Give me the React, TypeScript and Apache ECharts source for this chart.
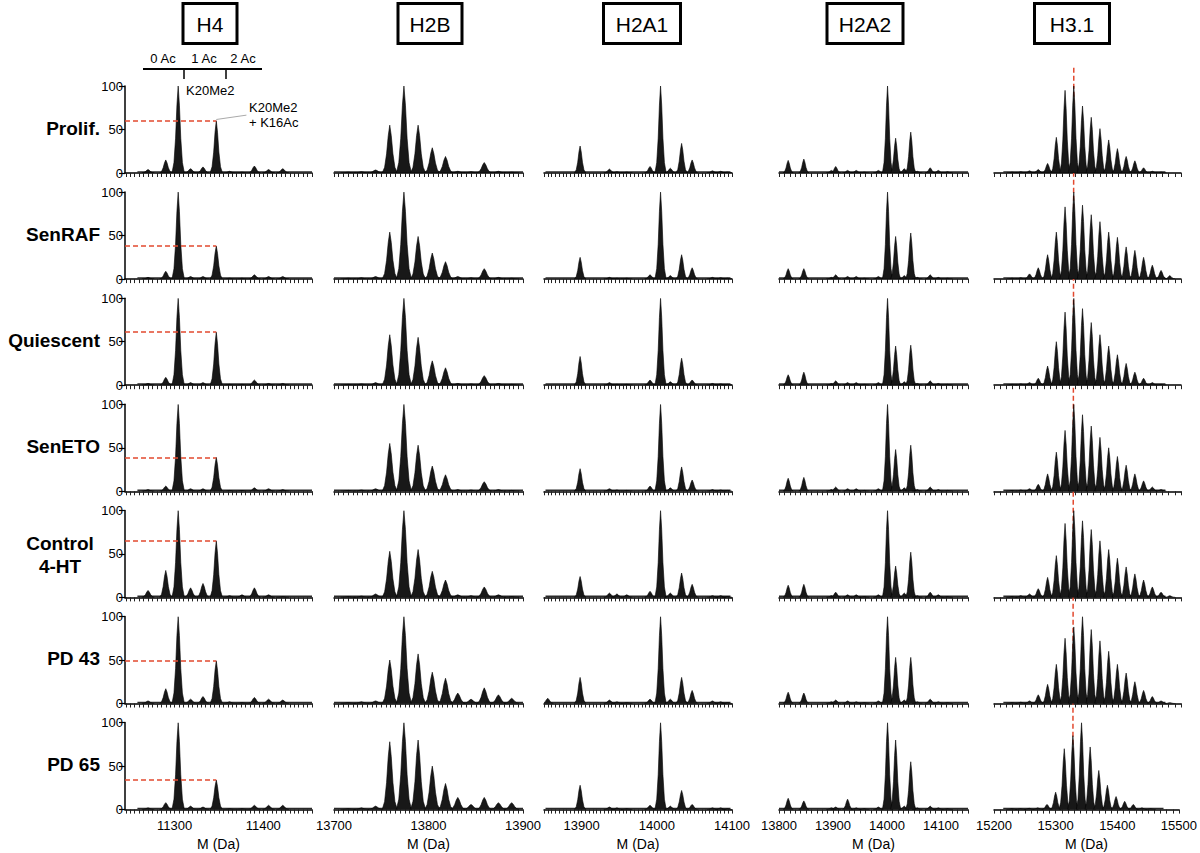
import React, { useEffect, useRef } from "react";
import * as echarts from "echarts";

// ---------- DATA ----------
const ROW_LABELS = ["Prolif.", "SenRAF", "Quiescent", "SenETO", "Control\n4-HT", "PD 43", "PD 65"];
const COLUMN_TITLES = ["H4", "H2B", "H2A1", "H2A2", "H3.1"];

// x axis ranges (Da) and tick labels
const X_MIN = [11244, 13700, 13850, 13800, 15200];
const X_MAX = [11455, 13900, 14100, 14150, 15500];
const X_TICK_LABELS = [
  [11300, 11400],
  [13700, 13800, 13900],
  [13900, 14000, 14100],
  [13800, 13900, 14000, 14100],
  [15200, 15300, 15400, 15500],
];
const X_MINOR_STEP = [5, 5, 5, 10, 10];
const Y_TICKS = [0, 50, 100];

// spectrum baseline extent (Da)
const BASE_START = [11258, 13700, 13852, 13800, 15215];
const BASE_END = [11455, 13900, 14098, 14150, 15475];

// peak masses per histone (Da)
const H4_MASS = [11270, 11290, 11304, 11318, 11332, 11347, 11362, 11376, 11390, 11406, 11422];
const H2B_MASS = [13715, 13729, 13744, 13759, 13774, 13789, 13804, 13818, 13831, 13845, 13859, 13874, 13888];
const H2A1_MASS = [13855, 13898, 13937, 13947, 13960, 13991, 14005, 14018, 14033, 14047, 14074, 14085, 14094];
const H2A2_MASS = [13817, 13846, 13897, 13905, 13927, 13943, 13958, 13984, 14001, 14016, 14032, 14044, 14056, 14080, 14095, 14112];
const H31_MASS = [15229, 15243, 15257, 15271, 15286, 15300, 15314, 15328, 15342, 15356, 15370, 15384, 15398, 15412, 15426, 15440, 15454, 15468, 15482];

// relative intensities (%), one row per condition (Prolif., SenRAF, Quiescent, SenETO, Control 4-HT, PD 43, PD 65)
const H4_INT = [
  [4, 15, 100, 5, 7, 60, 2, 1, 8, 4, 5],
  [2, 9, 100, 3, 3, 38, 1, 1, 5, 3, 3],
  [2, 9, 100, 3, 3, 61, 1, 1, 6, 2, 2],
  [2, 6, 100, 3, 3, 39, 1, 1, 4, 3, 2],
  [8, 31, 100, 11, 16, 65, 2, 3, 11, 3, 1],
  [3, 17, 100, 5, 8, 49, 2, 1, 7, 5, 4],
  [2, 8, 100, 4, 3, 34, 1, 1, 5, 5, 5],
];
const H2B_INT = [
  [1, 1.5, 3.5, 55, 100, 55, 29, 19, 2, 1.5, 12, 2, 1],
  [1, 1.5, 3, 54, 100, 49, 30, 20, 3, 1.5, 12, 2, 1],
  [1, 1.5, 3, 58, 100, 55, 28, 20, 2, 1.5, 11, 2, 1],
  [1, 1.5, 3, 55, 100, 53, 29, 19, 2, 1.5, 11, 2, 1],
  [1, 1.5, 4, 53, 100, 55, 30, 20, 3, 2, 12, 3, 1],
  [1, 2, 3, 50, 100, 57, 36, 29, 12, 5, 18, 10, 6],
  [1, 2, 4, 78, 100, 80, 50, 30, 14, 6, 14, 8, 8],
];
const H2A1_INT = [
  [0, 31, 4.5, 1.5, 1, 7.5, 100, 5.5, 34, 15, 2.5, 2, 1],
  [0, 25, 2, 1, 1, 5, 100, 4, 28, 13, 2, 1.5, 1],
  [0, 33, 3, 1, 1, 6, 100, 4, 31, 6, 2, 1.5, 1],
  [0, 26, 3, 1.5, 1, 6, 100, 4, 28, 13, 2, 1.5, 1],
  [0, 24, 5, 4, 3, 7, 100, 5, 28, 15, 2, 2, 1],
  [6, 30, 4, 2, 1, 5, 100, 5, 30, 15, 3, 2, 1],
  [0, 28, 3, 2, 1, 5, 100, 4, 22, 6, 2, 2, 1],
];
const H2A2_INT = [
  [14.5, 16, 3, 7.5, 3, 3, 1, 3, 100, 40, 5, 47, 2, 6, 3, 1.5],
  [12, 12, 2, 5, 3, 3, 1, 3, 100, 49, 4, 53, 2, 5, 2, 1],
  [12, 15, 2, 5, 3, 3, 1, 3, 100, 45, 4, 46, 2, 5, 2, 1],
  [15, 16, 2, 5, 3, 3, 1, 3, 100, 48, 4, 53, 2, 5, 2, 1],
  [14, 15, 2, 6, 3, 3, 1, 3, 100, 36, 5, 52, 2, 6, 3, 1],
  [13, 12, 2, 4, 3, 2, 1, 3, 100, 53, 4, 53, 2, 5, 2, 1],
  [13, 10, 2, 3, 12, 2, 1, 3, 100, 80, 4, 55, 2, 4, 2, 1],
];
const H31_INT = [
  [1, 1.5, 2.5, 4, 11, 41, 95, 100, 77, 64, 51, 38, 28, 19, 14, 6, 2, 1, 0],
  [1, 1.5, 6, 13, 28, 54, 83, 100, 85, 74, 66, 54, 48, 37, 33, 25, 16, 10, 4],
  [1, 1.5, 3, 8, 22, 50, 84, 100, 88, 72, 58, 45, 35, 25, 15, 8, 3, 1, 0],
  [1, 1.5, 3, 8, 20, 45, 70, 100, 88, 75, 62, 50, 40, 30, 20, 12, 5, 2, 0],
  [1, 2, 4, 10, 23, 48, 85, 100, 88, 78, 65, 55, 45, 35, 27, 20, 12, 6, 2],
  [1, 1.5, 3, 10, 22, 45, 75, 88, 100, 85, 72, 60, 45, 35, 25, 15, 8, 3, 1],
  [1, 1, 1.5, 2, 6, 20, 70, 85, 100, 72, 45, 28, 15, 9.5, 6, 2, 1, 0, 0],
];

const MASSES = [H4_MASS, H2B_MASS, H2A1_MASS, H2A2_MASS, H31_MASS];
const INTENSITIES = [H4_INT, H2B_INT, H2A1_INT, H2A2_INT, H31_INT];

// annotations
const H4_ACETYL_PEAK = 11347; // K20Me2 + K16Ac
const H31_REF_MASS = 15328;

// ---------- LAYOUT ----------
const GRID_LEFT = [125, 334, 544, 779, 994];
const GRID_WIDTH = [187, 189, 188, 189, 187];
const ROW_BASE0 = 173;
const ROW_STEP = 106.1;
const PLOT_H = 87;
const PEAK_HALF = [7, 8, 7.5, 9.5, 8.5];
const FONT = '"Liberation Sans", Arial, Helvetica, sans-serif';
const RED = "#e2492f";

const HEADER_CX = [210, 430, 642, 865, 1072];
const HEADER_W = [54, 64, 77, 76, 75];

const PEAK_SHAPE = [
  [-1, 0],
  [-0.68, 0.12],
  [-0.42, 0.4],
  [-0.2, 0.78],
  [0, 1],
  [0.2, 0.78],
  [0.42, 0.4],
  [0.68, 0.12],
  [1, 0],
];

function baseY(r: number) {
  return ROW_BASE0 + r * ROW_STEP;
}

function range(from: number, to: number, step: number) {
  const out: number[] = [];
  for (let v = Math.ceil(from / step) * step; v <= to + 1e-6; v += step) out.push(v);
  return out;
}

export default function App() {
  const ref = useRef<HTMLDivElement>(null);

  useEffect(() => {
    const chart = echarts.init(ref.current!, null, { renderer: "svg" });
    const grids: any[] = [];
    const xAxes: any[] = [];
    const yAxes: any[] = [];
    const series: any[] = [];

    for (let r = 0; r < ROW_LABELS.length; r++) {
      for (let c = 0; c < COLUMN_TITLES.length; c++) {
        const idx = grids.length;
        const isBottom = r === ROW_LABELS.length - 1;
        grids.push({
          left: GRID_LEFT[c],
          width: GRID_WIDTH[c],
          top: baseY(r) - PLOT_H,
          height: PLOT_H,
        });
        xAxes.push({
          type: "value",
          gridIndex: idx,
          min: X_MIN[c],
          max: X_MAX[c],
          axisLine: { show: true, onZero: false, lineStyle: { color: "#000", width: 1.5 } },
          axisTick: {
            show: true,
            customValues: range(X_MIN[c], X_MAX[c], X_MINOR_STEP[c]),
            length: 4,
            lineStyle: { color: "#222", width: 1 },
          },
          axisLabel: {
            show: isBottom,
            customValues: X_TICK_LABELS[c],
            formatter: (v: number) => String(v),
            fontSize: 13,
            fontFamily: FONT,
            color: "#000",
            margin: 9,
          },
          splitLine: { show: false },
          name: isBottom ? "M (Da)" : "",
          nameLocation: "middle",
          nameGap: 27,
          nameTextStyle: { fontSize: 14, fontFamily: FONT, color: "#000" },
        });
        yAxes.push({
          type: "value",
          gridIndex: idx,
          min: 0,
          max: 100,
          show: c === 0,
          axisLine: { show: true, lineStyle: { color: "#000", width: 1.5 } },
          axisTick: { show: true, customValues: Y_TICKS, length: 6, lineStyle: { color: "#000", width: 1.2 } },
          axisLabel: {
            customValues: Y_TICKS,
            formatter: (v: number) => String(v),
            fontSize: 13,
            fontFamily: FONT,
            color: "#000",
            margin: 2,
          },
          splitLine: { show: false },
        });

        const masses = MASSES[c];
        const ints = INTENSITIES[c][r];
        const hw = PEAK_HALF[c];
        const data = masses.map((m, i) => [m, ints[i]]);

        series.push({
          type: "custom",
          xAxisIndex: idx,
          yAxisIndex: idx,
          z: 5,
          clip: true,
          silent: true,
          data,
          encode: { x: 0, y: 1 },
          renderItem: (_p: any, api: any) => {
            const m = api.value(0);
            const h = api.value(1);
            if (!(h > 0)) return null;
            const pts = PEAK_SHAPE.map(([dx, dy]) => api.coord([m + dx * hw, dy * h]));
            return {
              type: "polygon",
              shape: { points: pts },
              style: { fill: "#181818", stroke: "#000", lineWidth: 0.6 },
            };
          },
        });

        const lineSeries: any = {
          type: "line",
          xAxisIndex: idx,
          yAxisIndex: idx,
          z: 4,
          silent: true,
          symbol: "none",
          data: [
            [BASE_START[c], 1.2],
            [BASE_END[c], 1.2],
          ],
          lineStyle: { color: "#2a2a2a", width: 1.6 },
        };
        if (c === 0) {
          const ai = H4_MASS.indexOf(H4_ACETYL_PEAK);
          const v = ints[ai];
          const mlData: any[] = [
            [
              { coord: [X_MIN[0], v], lineStyle: { color: RED, width: 1.5, type: [5, 3] } },
              { coord: [H4_ACETYL_PEAK, v] },
            ],
          ];
          if (r === 0) {
            mlData.push([
              { coord: [H4_ACETYL_PEAK, v + 1.5], lineStyle: { color: "#aaa", width: 1, type: "solid" } },
              { coord: [11381, 66.5] },
            ]);
          }
          lineSeries.markLine = {
            silent: true,
            symbol: ["none", "none"],
            label: { show: false },
            z: 8,
            animation: false,
            data: mlData,
          };
        }
        series.push(lineSeries);
      }
    }

    chart.setOption({
      animation: false,
      backgroundColor: "#fff",
      grid: grids,
      xAxis: xAxes,
      yAxis: yAxes,
      series,
    });

    // ----- graphics -----
    const elements: any[] = [];
    COLUMN_TITLES.forEach((t, c) => {
      elements.push({
        type: "rect",
        shape: { x: HEADER_CX[c] - HEADER_W[c] / 2, y: 3.5, width: HEADER_W[c], height: 40 },
        style: { fill: "#fff", stroke: "#000", lineWidth: 3 },
      });
      elements.push({
        type: "text",
        x: HEADER_CX[c],
        y: 24,
        style: { text: t, fontSize: 21, fontFamily: FONT, fill: "#000", align: "center", verticalAlign: "middle" },
      });
    });
    ROW_LABELS.forEach((t, r) => {
      const multi = t.indexOf("\n") >= 0;
      elements.push({
        type: "text",
        x: multi ? 60 : 100,
        y: baseY(r) - (multi ? 42.5 : 45),
        style: {
          text: t,
          fontSize: 19,
          fontWeight: "bold",
          fontFamily: FONT,
          fill: "#000",
          align: multi ? "center" : "right",
          verticalAlign: "middle",
          lineHeight: 23,
        },
      });
    });
    elements.push({ type: "line", shape: { x1: 143, y1: 69, x2: 262, y2: 69 }, style: { stroke: "#000", lineWidth: 2 } });
    elements.push({ type: "line", shape: { x1: 184, y1: 69, x2: 184, y2: 79 }, style: { stroke: "#000", lineWidth: 1.5 } });
    elements.push({ type: "line", shape: { x1: 226, y1: 69, x2: 226, y2: 79 }, style: { stroke: "#000", lineWidth: 1.5 } });
    [
      ["0 Ac", 163],
      ["1 Ac", 204],
      ["2 Ac", 243],
    ].forEach(([t, x]) => {
      elements.push({
        type: "text",
        x: x as number,
        y: 58,
        style: { text: t as string, fontSize: 13, fontFamily: FONT, fill: "#000", align: "center", verticalAlign: "middle" },
      });
    });
    elements.push({
      type: "text",
      x: 186,
      y: 90,
      style: { text: "K20Me2", fontSize: 13, fontFamily: FONT, fill: "#000", align: "left", verticalAlign: "middle" },
    });
    elements.push({
      type: "text",
      x: 249,
      y: 115,
      style: {
        text: "K20Me2\n+ K16Ac",
        fontSize: 13,
        fontFamily: FONT,
        fill: "#000",
        align: "left",
        verticalAlign: "middle",
        lineHeight: 15,
      },
    });
    const topPt = chart.convertToPixel({ gridIndex: 4 }, [H31_REF_MASS, 121]) as number[];
    const botPt = chart.convertToPixel({ gridIndex: 34 }, [H31_REF_MASS, 40]) as number[];
    elements.push({
      type: "line",
      z: 1,
      shape: { x1: topPt[0], y1: topPt[1], x2: botPt[0], y2: botPt[1] },
      style: { stroke: RED, lineWidth: 1.5, lineDash: [5, 3] },
    });

    chart.setOption({ graphic: { elements } });

    return () => chart.dispose();
  }, []);

  return (
    <div
      ref={ref}
      style={{ position: "fixed", left: 0, top: 0, width: 1200, height: 853, background: "#fff" }}
    />
  );
}
